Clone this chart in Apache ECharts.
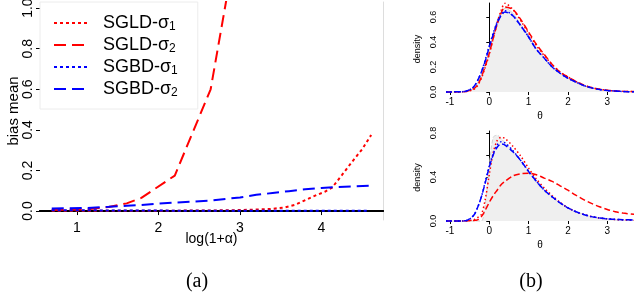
<!DOCTYPE html>
<html><head><meta charset="utf-8">
<script src="https://cdn.jsdelivr.net/npm/echarts@6/dist/echarts.min.js"></script>
<style>html,body{margin:0;padding:0;background:#fff}#c{width:634px;height:294px}</style>
</head><body><div id="c"></div>
<script>
// ---------- Panel (a): bias mean vs log(1+alpha) ----------
const xTickVals = [1, 2, 3, 4];
const yTickVals = [0, 0.2, 0.4, 0.6, 0.8, 1.0];
const seriesNames = ['SGLD-σ1', 'SGLD-σ2', 'SGBD-σ1', 'SGBD-σ2'];

const sgld1X = [0.69, 1.10, 1.39, 1.79, 2.20, 2.64, 3.00, 3.37, 3.55, 3.67, 3.76, 3.94, 4.04, 4.13, 4.25, 4.37, 4.50, 4.61];
const sgld1Y = [0.002, 0.002, 0.002, 0.002, 0.002, 0.003, 0.005, 0.010, 0.018, 0.030, 0.046, 0.079, 0.095, 0.115, 0.177, 0.240, 0.305, 0.375];

const sgld2X = [0.69, 1.10, 1.39, 1.61, 1.79, 2.20, 2.64, 2.85];
const sgld2Y = [0.005, 0.008, 0.020, 0.038, 0.065, 0.175, 0.600, 1.080];

const sgbd1X = [0.69, 1.10, 1.39, 1.79, 2.20, 2.64, 3.00, 3.50, 4.00, 4.56];
const sgbd1Y = [0.004, 0.004, 0.003, 0.003, 0.002, 0.001, 0.001, 0.001, 0.001, 0.001];

const sgbd2X = [0.69, 1.10, 1.39, 1.61, 1.79, 2.00, 2.20, 2.40, 2.64, 2.83, 3.00, 3.20, 3.40, 3.60, 3.80, 4.00, 4.20, 4.40, 4.61];
const sgbd2Y = [0.013, 0.015, 0.021, 0.026, 0.030, 0.037, 0.042, 0.046, 0.052, 0.060, 0.067, 0.080, 0.089, 0.098, 0.107, 0.114, 0.119, 0.122, 0.125];

// ---------- Panel (b): density plots ----------
const thetaGrid = [-1.1, -0.8, -0.6, -0.4, -0.3, -0.2, -0.1, 0, 0.1, 0.2, 0.3, 0.4, 0.6, 0.8, 1.0, 1.2, 1.4, 1.6, 1.8, 2.0, 2.2, 2.4, 2.6, 2.8, 3.0, 3.2, 3.4, 3.7];
const bTicks = [-1, 0, 1, 2, 3];
const topYTicks = [0, 0.2, 0.4, 0.6];
const botYTicks = [0, 0.2, 0.4, 0.6, 0.8];
const botYLabels = [0, 0.4, 0.8];

const topTruth = [0, 0, 0.003, 0.03, 0.07, 0.14, 0.23, 0.34, 0.46, 0.57, 0.64, 0.67, 0.63, 0.54, 0.45, 0.35, 0.27, 0.20, 0.15, 0.11, 0.075, 0.05, 0.032, 0.02, 0.012, 0.007, 0.004, 0.002];
const topSgld1 = [0, 0.001, 0.003, 0.02, 0.05, 0.11, 0.20, 0.30, 0.43, 0.55, 0.65, 0.71, 0.66, 0.57, 0.47, 0.37, 0.29, 0.22, 0.16, 0.12, 0.085, 0.055, 0.035, 0.022, 0.014, 0.008, 0.005, 0.003];
const topSgld2 = [0, 0.001, 0.004, 0.025, 0.055, 0.12, 0.21, 0.31, 0.43, 0.54, 0.63, 0.68, 0.66, 0.58, 0.48, 0.38, 0.30, 0.22, 0.16, 0.12, 0.085, 0.056, 0.036, 0.023, 0.014, 0.008, 0.005, 0.003];
const topSgbd1 = [0, 0.002, 0.006, 0.04, 0.09, 0.16, 0.26, 0.37, 0.47, 0.56, 0.62, 0.65, 0.61, 0.53, 0.44, 0.34, 0.27, 0.20, 0.15, 0.11, 0.08, 0.052, 0.033, 0.02, 0.012, 0.008, 0.004, 0.002];
const topSgbd2 = [0, 0.002, 0.006, 0.04, 0.09, 0.16, 0.25, 0.36, 0.46, 0.55, 0.61, 0.64, 0.61, 0.53, 0.44, 0.34, 0.27, 0.20, 0.15, 0.11, 0.08, 0.052, 0.033, 0.02, 0.012, 0.008, 0.004, 0.002];

const botTruth = [0, 0, 0, 0, 0, 0, 0.15, 0.50, 0.76, 0.78, 0.75, 0.71, 0.64, 0.55, 0.46, 0.37, 0.29, 0.22, 0.165, 0.12, 0.085, 0.06, 0.04, 0.027, 0.018, 0.012, 0.008, 0.005];
const botSgld1 = [0, 0, 0.002, 0.01, 0.03, 0.06, 0.20, 0.42, 0.62, 0.73, 0.76, 0.75, 0.68, 0.59, 0.48, 0.38, 0.30, 0.23, 0.17, 0.12, 0.085, 0.06, 0.04, 0.028, 0.02, 0.014, 0.01, 0.007];
const botSgld2 = [0, 0, 0.002, 0.004, 0.01, 0.04, 0.10, 0.17, 0.23, 0.28, 0.33, 0.36, 0.41, 0.43, 0.435, 0.42, 0.39, 0.36, 0.32, 0.28, 0.235, 0.195, 0.16, 0.13, 0.105, 0.085, 0.072, 0.06];
const botSgbd1 = [0, 0, 0.002, 0.05, 0.12, 0.22, 0.36, 0.50, 0.61, 0.69, 0.72, 0.71, 0.64, 0.55, 0.45, 0.36, 0.28, 0.22, 0.165, 0.12, 0.085, 0.06, 0.04, 0.028, 0.02, 0.015, 0.012, 0.01];
const botSgbd2 = [0, 0, 0.003, 0.05, 0.12, 0.22, 0.35, 0.49, 0.60, 0.67, 0.70, 0.69, 0.63, 0.55, 0.45, 0.36, 0.28, 0.22, 0.165, 0.12, 0.085, 0.06, 0.04, 0.028, 0.02, 0.015, 0.012, 0.01];

// ---------- build ----------
const RED = '#ff0000', BLUE = '#0000ff';
const SANS = 'Liberation Sans, Arial, sans-serif';
const pairs = (xs, ys) => xs.map((x, i) => [x, ys[i]]);
const styleA = [
  { color: RED, type: [3, 3] },
  { color: RED, type: [12, 6] },
  { color: BLUE, type: [3, 3] },
  { color: BLUE, type: [12, 6] }
];
const styleB = [
  { color: RED, type: [1.5, 2.5] },
  { color: RED, type: [6, 3] },
  { color: BLUE, type: [1.5, 2.5] },
  { color: BLUE, type: [6, 3] }
];
const dataA = [pairs(sgld1X, sgld1Y), pairs(sgld2X, sgld2Y), pairs(sgbd1X, sgbd1Y), pairs(sgbd2X, sgbd2Y)];
const dataTop = [topSgld1, topSgld2, topSgbd1, topSgbd2].map(v => pairs(thetaGrid, v));
const dataBot = [botSgld1, botSgld2, botSgbd1, botSgbd2].map(v => pairs(thetaGrid, v));

const series = [];
seriesNames.forEach((n, i) => {
  series.push({ name: n, type: 'line', xAxisIndex: 0, yAxisIndex: 0, data: dataA[i], symbol: 'none',
    lineStyle: { width: 2, color: styleA[i].color, type: styleA[i].type, cap: 'butt' }, itemStyle: { color: styleA[i].color }, z: 3 });
});
series.push({ name: 'truth-top', type: 'line', xAxisIndex: 2, yAxisIndex: 2, data: pairs(thetaGrid, topTruth), symbol: 'none', smooth: 0.3,
  lineStyle: { width: 1, color: '#cfcfcf' }, areaStyle: { color: '#efefef', opacity: 1 }, z: 1 });
series.push({ name: 'truth-bot', type: 'line', xAxisIndex: 3, yAxisIndex: 3, data: pairs(thetaGrid, botTruth), symbol: 'none', smooth: 0.3,
  lineStyle: { width: 1, color: '#cfcfcf', type: [4, 2] }, areaStyle: { color: '#efefef', opacity: 1 }, z: 1 });
[[dataTop, 2], [dataBot, 3]].forEach(([d, ax]) => {
  seriesNames.forEach((n, i) => {
    series.push({ name: n, type: 'line', xAxisIndex: ax, yAxisIndex: ax, data: d[i], symbol: 'none', smooth: 0.3,
      lineStyle: { width: 1.5, color: styleB[i].color, type: styleB[i].type, cap: 'butt' }, itemStyle: { color: styleB[i].color }, z: 3 });
  });
});

const fmt1 = v => Number(v).toFixed(1);
const bX = (grid, nameGap) => ({
  gridIndex: grid, type: 'value', min: -1.1, max: 3.68,
  axisLine: { show: false }, splitLine: { show: false },
  axisTick: { show: true, customValues: bTicks, length: 3, lineStyle: { color: '#000' } },
  axisLabel: { customValues: bTicks, fontSize: 10, color: '#000', margin: 2, fontFamily: SANS },
  name: 'θ', nameLocation: 'middle', nameGap: nameGap, nameMoveOverlap: false, nameTextStyle: { fontSize: 10, color: '#000', fontFamily: SANS }
});
const bY = (grid, min, max, ticks, labels) => ({
  gridIndex: grid, type: 'value', min: min, max: max,
  axisLine: { show: true, lineStyle: { color: '#000', width: 1 } }, splitLine: { show: false },
  axisTick: { show: true, customValues: ticks, length: 3, lineStyle: { color: '#000' } },
  axisLabel: { customValues: labels, formatter: fmt1, rotate: 90, align: 'center', verticalAlign: 'bottom', fontSize: 9, color: '#000', margin: 8, fontFamily: SANS },
  name: 'density', nameLocation: 'middle', nameGap: 24, nameRotate: 90, nameMoveOverlap: false, nameTextStyle: { fontSize: 9, color: '#000', fontFamily: SANS }
});

const option = {
  animation: false,
  backgroundColor: '#fff',
  grid: [
    { left: 40, top: 2, width: 343, height: 218, containLabel: false, outerBoundsMode: 'none' },
    { left: 446, top: 3, width: 188, height: 92, containLabel: false, outerBoundsMode: 'none' },
    { left: 446, top: 131, width: 188, height: 93, containLabel: false, outerBoundsMode: 'none' }
  ],
  legend: {
    data: seriesNames, orient: 'vertical', left: 40, top: 2,
    padding: [11, 20, 10, 13], itemGap: 2, itemWidth: 35, itemHeight: 14,
    borderColor: '#ececec', borderWidth: 1, backgroundColor: 'transparent',
    itemStyle: { opacity: 0 },
    formatter: name => { const p = name.split('σ'); return '{a|' + p[0] + 'σ}{s|' + p[1] + '}'; },
    textStyle: {
      padding: [0, 0, 0, 9],
      rich: {
        a: { fontSize: 18, color: '#000', fontFamily: SANS, lineHeight: 18, verticalAlign: 'top' },
        s: { fontSize: 12, color: '#000', fontFamily: SANS, lineHeight: 12, padding: [8, 0, 0, 0] }
      }
    }
  },
  xAxis: [
    { gridIndex: 0, type: 'value', min: 0.546, max: 4.755,
      axisLine: { show: true, lineStyle: { color: '#000', width: 2 } }, splitLine: { show: false },
      axisTick: { show: true, customValues: xTickVals, length: 4, lineStyle: { color: '#000' } },
      axisLabel: { customValues: xTickVals, fontSize: 14, color: '#000', margin: 1, fontFamily: SANS },
      name: 'log(1+α)', nameLocation: 'middle', nameGap: 12, nameMoveOverlap: false, nameTextStyle: { fontSize: 14, color: '#000', fontFamily: SANS } },
    { gridIndex: 0, type: 'value', position: 'top', min: 0.546, max: 4.755,
      axisLine: { show: true, lineStyle: { color: '#000', width: 2 } }, axisTick: { show: false }, axisLabel: { show: false }, splitLine: { show: false } },
    bX(1, 16),
    bX(2, 16)
  ],
  yAxis: [
    { gridIndex: 0, type: 'value', min: -0.044, max: 1.03,
      axisLine: { show: false }, splitLine: { show: false },
      axisTick: { show: true, customValues: yTickVals, length: 4, lineStyle: { color: '#000' } },
      axisLabel: { customValues: yTickVals, formatter: fmt1, rotate: 90, align: 'center', verticalAlign: 'bottom', fontSize: 14, color: '#000', margin: 5, fontFamily: SANS },
      name: 'bias mean', nameLocation: 'middle', nameGap: 19, nameRotate: 90, nameMoveOverlap: false, nameTextStyle: { fontSize: 15, color: '#000', fontFamily: SANS } },
    { gridIndex: 0, type: 'value', position: 'right', min: -0.044, max: 1.03,
      axisLine: { show: true, lineStyle: { color: '#dddddd', width: 1 } }, axisTick: { show: false }, axisLabel: { show: false }, splitLine: { show: false } },
    bY(1, -0.024, 0.712, topYTicks, topYTicks),
    bY(2, -0.027, 0.818, botYTicks, botYLabels)
  ],
  graphic: [
    { type: 'text', x: 197, y: 282, style: { text: '(a)', font: '20px "Liberation Serif", serif', fill: '#000', align: 'center', verticalAlign: 'middle' } },
    { type: 'text', x: 531, y: 282, style: { text: '(b)', font: '20px "Liberation Serif", serif', fill: '#000', align: 'center', verticalAlign: 'middle' } }
  ],
  series: series
};
const chart = echarts.init(document.getElementById('c'), null, { renderer: 'canvas' });
chart.setOption(option);
</script>
</body></html>
